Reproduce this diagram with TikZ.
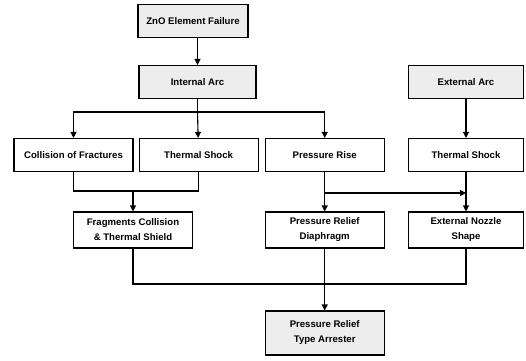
\documentclass[tikz,border=0pt]{standalone}
\usepackage{fontspec}
\setmainfont{Liberation Sans}
\usepackage{tikz}
\usetikzlibrary{positioning,arrows.meta}

\begin{document}
\begin{tikzpicture}[
    x=1pt, y=-1pt,
    font=\fontsize{9.6}{15}\selectfont\bfseries, node distance=6pt,
    box/.style={draw, line width=1.1pt, minimum width=119pt,
                minimum height=33pt, align=center, inner sep=2pt},
    shaded/.style={box, fill=gray!14},
    arr/.style={-{Triangle[length=6pt,width=6pt]}, line width=1.1pt},
    link/.style={line width=1.1pt}
  ]
    \useasboundingbox (0,0) rectangle (526,360);
    % top of the tree
    \node[shaded, minimum width=110pt] (zno) at (193,21) {ZnO Element Failure};
    \node[shaded, minimum width=117pt] (iarc) at (197.5,82) {Internal Arc};
    \node[shaded, minimum width=115pt] (earc) at (466,82) {External Arc};
    % second row
    \node[box] (coll) at (73.5,155) {Collision of Fractures};
    \node[box, right=5pt of coll] (tsha) {Thermal Shock};
    \node[box, right=of tsha] (prise) {Pressure Rise};
    \node[box, minimum width=115pt] (tshb) at (466,155) {Thermal Shock};
    % third row
    \node[box, minimum height=36pt] (frag) at (133,230) {Fragments Collision\\\& Thermal Shield};
    \node[box, minimum height=36pt] (diaph) at (prise |- frag) {Pressure Relief\\Diaphragm};
    \node[box, minimum height=36pt, minimum width=115pt] (nozz) at (466,230) {External Nozzle\\Shape};
    % result
    \node[shaded, minimum height=44pt] (final) at (diaph |- 0,333) {Pressure Relief\\Type Arrester};
    \coordinate (split) at (iarc |- 0,112);
    \coordinate (jfrag) at (frag |- 0,191);
    \coordinate (jpr) at (prise |- 0,193);
    \coordinate (jend) at (final |- 0,284);

    \draw[arr] (zno.south -| iarc.north) -- (iarc);
    \draw[link] (iarc) -- (split);
    \draw[arr] (split) -| (coll.north);
    \draw[arr] (split) -- (tsha);
    \draw[arr] (split) -| (prise.north);
    \draw[arr] (earc) -- (tshb);
    \draw[link] (coll.south) |- (jfrag);
    \draw[link] (tsha.south) |- (jfrag);
    \draw[arr] (jfrag) -- (frag);
    \draw[arr] (prise) -- (diaph);
    \draw[arr] (jpr) -- (jpr -| tshb.south);
    \draw[arr] (tshb) -- (nozz);
    \draw[link] (frag.south) |- (jend);
    \draw[link] (nozz.south) |- (jend);
    \draw[arr] (diaph) -- (final);
  \end{tikzpicture}
\end{document}
